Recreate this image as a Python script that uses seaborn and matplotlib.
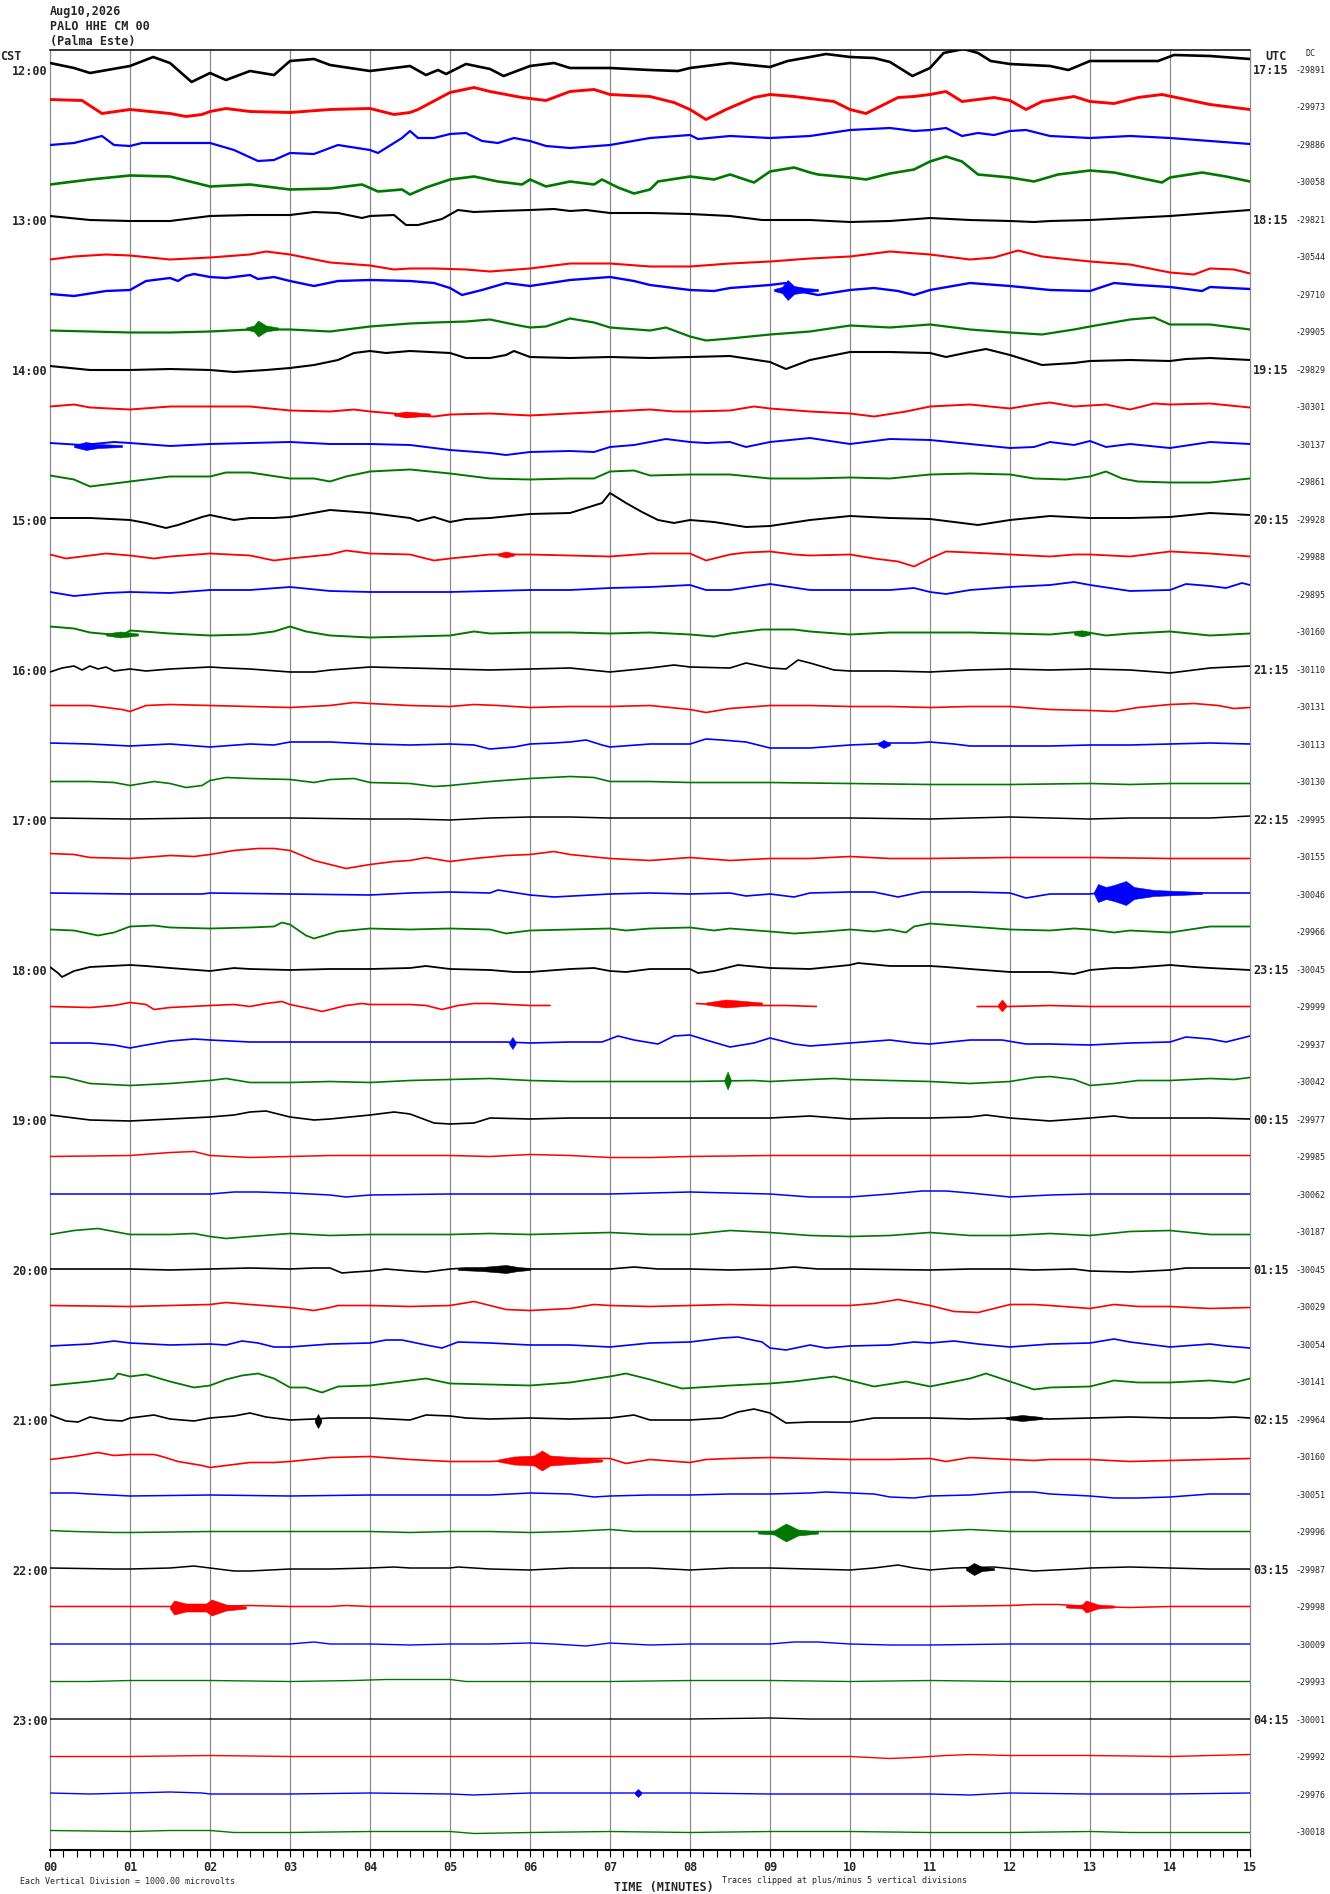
import numpy as np
import pandas as pd
import matplotlib
matplotlib.use("Agg")
import matplotlib.pyplot as plt
import seaborn as sns

W, H = 1330, 1894
ROW_PX = 37.5  # spacing of the 15-minute lines, in output pixels

station = ["Aug10,2026", "PALO HHE CM 00", "(Palma Este)"]
cst_hours = ["12:00", "13:00", "14:00", "15:00", "16:00", "17:00",
             "18:00", "19:00", "20:00", "21:00", "22:00", "23:00"]
utc_hours = ["17:15", "18:15", "19:15", "20:15", "21:15", "22:15",
             "23:15", "00:15", "01:15", "02:15", "03:15", "04:15"]
minute_labels = ["00", "01", "02", "03", "04", "05", "06", "07",
                 "08", "09", "10", "11", "12", "13", "14", "15"]
dc_offsets = [-29891, -29973, -29886, -30058, -29821, -30544, -29710, -29905,
              -29829, -30301, -30137, -29861, -29928, -29988, -29895, -30160,
              -30110, -30131, -30113, -30130, -29995, -30155, -30046, -29966,
              -30045, -29999, -29937, -30042, -29977, -29985, -30062, -30187,
              -30045, -30029, -30054, -30141, -29964, -30160, -30051, -29996,
              -29987, -29998, -30009, -29993, -30001, -29992, -29976, -30018]

# (minute, offset up from the line's baseline)
w1200 = [(0,7),(0.3,2),(0.5,-3),(1,4),(1.29,13),(1.5,7),(1.77,-12),(2,-3),(2.2,-10),(2.5,-1),(2.8,-5),(3,9),(3.3,11),(3.5,5),(4,-1),(4.5,4),(4.7,-5),(4.85,0),(4.95,-4),(5.2,6),(5.5,1),(5.67,-6),(6,4),(6.3,7),(6.5,2),(7,2),(7.5,0),(7.85,-1),(8,2),(8.5,7),(9,3),(9.22,9),(9.5,13),(9.7,16),(10,13),(10.3,12),(10.5,8),(10.78,-6),(11,2),(11.17,17),(11.42,21),(11.6,17),(11.76,9),(12,6),(12.5,4),(12.73,0),(13,9),(13.5,9),(13.85,9),(14.05,15),(14.5,14),(15,11)]
w1215 = [(0,8),(0.4,7),(0.65,-6),(1,-2),(1.5,-6),(1.7,-9),(1.9,-7),(2,-4),(2.2,-1),(2.5,-4),(3,-5),(3.5,-2),(4,-1),(4.3,-7),(4.5,-5),(4.6,-2),(5,15),(5.3,20),(5.5,16),(5.9,10),(6.2,7),(6.5,16),(6.8,18),(7,13),(7.5,11),(7.8,5),(8,-2),(8.2,-12),(8.45,-2),(8.8,10),(9,13),(9.3,11),(9.8,6),(10,-2),(10.2,-6),(10.6,10),(10.8,11),(11,13),(11.2,16),(11.4,6),(11.8,10),(12,7),(12.2,-2),(12.4,6),(12.8,11),(13,6),(13.3,4),(13.6,10),(13.9,13),(14.2,8),(14.5,3),(15,-2)]
w1230 = [(0,0),(0.3,2),(0.65,9),(0.8,0),(1,-1),(1.15,2),(1.5,2),(2,2),(2.3,-5),(2.6,-16),(2.8,-15),(3,-8),(3.3,-9),(3.6,0),(4,-5),(4.1,-8),(4.4,7),(4.5,14),(4.6,7),(4.8,7),(5,11),(5.2,12),(5.4,4),(5.6,2),(5.8,7),(6,4),(6.2,-1),(6.5,-3),(7,0),(7.5,7),(8,10),(8.1,6),(8.5,9),(9,7),(9.5,9),(10,15),(10.5,17),(10.8,14),(11,15),(11.2,17),(11.4,9),(11.6,12),(11.8,10),(12,14),(12.2,15),(12.5,9),(13,7),(13.5,9),(14,7),(14.5,4),(15,1)]
w1245 = [(0,-2),(0.5,3),(1,7),(1.5,6),(2,-4),(2.5,-2),(3,-7),(3.5,-6),(3.9,-2),(4.1,-9),(4.4,-7),(4.5,-12),(4.7,-5),(5,3),(5.3,6),(5.6,1),(5.9,-2),(6,3),(6.2,-4),(6.5,1),(6.8,-2),(6.9,3),(7.1,-5),(7.3,-11),(7.5,-7),(7.6,1),(8,6),(8.3,3),(8.5,8),(8.8,0),(9,11),(9.3,15),(9.5,10),(9.6,8),(10,5),(10.2,3),(10.5,9),(10.8,13),(11,21),(11.2,26),(11.4,21),(11.6,8),(12,5),(12.3,1),(12.6,8),(13,12),(13.3,10),(13.6,5),(13.9,0),(14,5),(14.4,10),(14.7,6),(15,1)]
w1300 = [(0,4),(0.5,0),(1,-1),(1.5,-1),(2,4),(2.5,5),(3,5),(3.3,8),(3.6,7),(3.9,2),(4,4),(4.3,5),(4.45,-5),(4.6,-5),(4.9,1),(5.1,10),(5.3,8),(5.6,9),(6,10),(6.3,11),(6.5,9),(6.7,10),(7,7),(7.5,7),(8,6),(8.5,4),(8.9,0),(9.5,0),(10,-2),(10.5,-1),(11,2),(11.5,0),(12,-1),(12.3,-2),(12.5,-1),(13,0),(13.5,2),(14,4),(14.5,7),(15,10)]
w1315 = [(0,-2),(0.3,1),(0.7,3),(1,2),(1.5,-2),(2,0),(2.5,3),(2.7,6),(3,3),(3.5,-5),(4,-8),(4.3,-12),(4.5,-11),(4.8,-11),(5.2,-12),(5.5,-14),(6,-11),(6.5,-6),(7,-6),(7.5,-9),(8,-9),(8.5,-6),(9,-4),(9.5,-1),(10,1),(10.5,6),(11,3),(11.5,-2),(11.8,0),(12.1,7),(12.4,1),(13,-4),(13.5,-7),(14,-15),(14.3,-17),(14.5,-11),(14.8,-12),(15,-16)]
w1330 = [(0,1),(0.3,-1),(0.7,4),(1,5),(1.2,14),(1.5,17),(1.6,14),(1.7,19),(1.8,21),(2,18),(2.2,17),(2.5,20),(2.6,16),(2.8,18),(3,14),(3.3,9),(3.6,14),(4,15),(4.5,14),(4.8,12),(5,7),(5.15,0),(5.4,5),(5.7,12),(6,9),(6.5,15),(7,18),(7.3,14),(7.5,10),(7.8,7),(8,5),(8.3,4),(8.5,7),(9,10),(9.2,12),(9.35,4),(9.6,0),(10,5),(10.3,7),(10.6,4),(10.8,0),(11,5),(11.5,12),(12,9),(12.5,5),(13,4),(13.3,12),(13.6,10),(14,8),(14.4,4),(14.5,8),(15,6)]
w1345 = [(0,2),(0.5,1),(1,0),(1.5,0),(2,1),(2.5,3),(3,3),(3.5,1),(4,6),(4.5,9),(4.8,10),(5.2,11),(5.5,13),(5.8,8),(6,5),(6.2,6),(6.5,14),(6.8,10),(7,5),(7.5,2),(7.7,5),(8,-4),(8.2,-8),(8.5,-6),(9,-2),(9.5,1),(10,7),(10.5,5),(11,8),(11.5,3),(12,0),(12.4,-2),(12.8,3),(13,6),(13.5,13),(13.8,15),(14,8),(14.5,8),(15,3)]
w1400 = [(0,4),(0.5,0),(1,0),(1.5,1),(2,0),(2.3,-2),(2.7,0),(3,2),(3.3,5),(3.6,10),(3.8,17),(4,19),(4.2,17),(4.5,19),(5,17),(5.2,12),(5.5,12),(5.7,15),(5.8,19),(6,13),(6.5,12),(7,13),(7.5,12),(8,13),(8.5,14),(9,8),(9.2,1),(9.5,10),(10,18),(10.5,18),(11,17),(11.2,13),(11.5,18),(11.7,21),(12,15),(12.4,5),(12.8,7),(13,9),(13.5,10),(14,9),(14.2,11),(14.5,12),(15,10)]
w1415 = [(0,1),(0.3,3),(0.5,0),(1,-2),(1.5,1),(2,1),(2.5,1),(3,-3),(3.5,-4),(3.8,-2),(4,-4),(4.3,-6),(4.5,-8),(4.8,-9),(5,-7),(5.5,-6),(6,-8),(6.5,-6),(7,-4),(7.5,-2),(7.8,-4),(8,-4),(8.5,-3),(8.8,1),(9,-1),(9.5,-4),(10,-6),(10.3,-9),(10.7,-4),(11,1),(11.5,3),(12,-1),(12.3,3),(12.5,5),(12.8,1),(13.2,3),(13.5,-2),(13.8,4),(14,3),(14.5,4),(15,0)]
w1430 = [(0,2),(0.4,0),(0.8,3),(1,2),(1.5,-1),(2,1),(2.5,2),(3,3),(3.5,1),(4,1),(4.5,0),(5,-5),(5.5,-8),(5.7,-10),(6,-7),(6.5,-6),(6.8,-7),(7,-2),(7.3,0),(7.7,6),(8,3),(8.2,2),(8.5,3),(8.7,-2),(9,3),(9.5,7),(10,1),(10.5,6),(11,5),(11.5,1),(12,-3),(12.3,-2),(12.5,3),(12.8,0),(13,4),(13.2,-2),(13.5,1),(14,-3),(14.5,3),(15,1)]
w1445 = [(0,7),(0.3,3),(0.5,-4),(1,1),(1.5,6),(2,6),(2.2,10),(2.5,10),(3,4),(3.3,4),(3.5,1),(3.7,6),(4,11),(4.5,13),(5,9),(5.5,4),(6,3),(6.5,4),(6.8,4),(7,11),(7.3,12),(7.5,7),(8,8),(8.5,8),(9,4),(9.5,4),(10,5),(10.5,4),(11,8),(11.5,9),(12,8),(12.3,4),(12.7,3),(13,6),(13.2,11),(13.4,4),(13.6,1),(14,0),(14.5,0),(15,4)]
w1500 = [(0,2),(0.5,2),(1,0),(1.2,-3),(1.45,-8),(1.6,-5),(1.9,3),(2,5),(2.3,0),(2.5,2),(2.8,2),(3,3),(3.5,10),(4,7),(4.3,4),(4.5,2),(4.6,-1),(4.8,3),(5,-2),(5.2,1),(5.5,2),(6,6),(6.5,7),(6.9,17),(7,27),(7.2,17),(7.4,8),(7.6,0),(7.8,-3),(8,0),(8.3,-2),(8.7,-7),(9,-6),(9.5,0),(10,4),(10.5,2),(11,1),(11.3,-2),(11.6,-5),(12,0),(12.5,4),(13,2),(13.5,2),(14,3),(14.5,7),(15,5)]
w1515 = [(0,3),(0.2,-1),(0.5,2),(0.7,4),(1,2),(1.3,-1),(1.5,1),(2,4),(2.5,2),(2.8,-3),(3,-1),(3.5,3),(3.7,7),(4,4),(4.5,3),(4.8,-3),(5,-1),(5.5,3),(6,3),(6.5,2),(7,1),(7.5,4),(8,4),(8.2,-3),(8.5,3),(8.7,5),(9,6),(9.3,3),(9.5,2),(10,3),(10.3,-1),(10.6,-4),(10.8,-9),(11,-1),(11.2,6),(11.5,5),(12,3),(12.5,1),(12.8,3),(13,3),(13.5,1),(14,6),(14.5,4),(15,1)]
w1530 = [(0,3),(0.3,-1),(0.7,2),(1,3),(1.5,2),(2,5),(2.5,5),(3,8),(3.5,4),(4,3),(5,3),(6,5),(6.5,5),(7,7),(7.5,8),(8,10),(8.2,5),(8.5,5),(9,11),(9.5,5),(10,5),(10.5,5),(10.8,7),(11,3),(11.2,1),(11.5,5),(12,8),(12.5,10),(12.8,13),(13,10),(13.5,4),(14,5),(14.2,11),(14.5,9),(14.7,7),(14.9,12),(15,10)]
w1545 = [(0,6),(0.3,4),(0.5,0),(0.9,-3),(1,2),(1.5,-1),(2,-3),(2.5,-2),(2.8,1),(3,6),(3.2,1),(3.5,-3),(4,-5),(4.5,-4),(5,-3),(5.3,1),(5.5,-1),(6,0),(6.5,0),(7,-1),(7.5,0),(8,-2),(8.3,-4),(8.5,-1),(8.9,3),(9.3,3),(9.5,1),(10,-2),(10.5,0),(11,0),(11.5,0),(12,-1),(12.5,-2),(12.9,1),(13.2,-3),(13.5,-1),(14,1),(14.5,-3),(15,-1)]
w1600 = [(0,-2),(0.15,2),(0.3,4),(0.4,0),(0.5,4),(0.6,1),(0.7,3),(0.8,-1),(1,1),(1.2,-1),(1.5,1),(2,3),(2.2,2),(2.5,1),(3,-2),(3.3,-2),(3.5,0),(4,3),(4.5,2),(5,1),(5.5,0),(6,1),(6.5,2),(7,-2),(7.5,2),(7.8,5),(8,3),(8.5,2),(8.7,7),(9,2),(9.2,1),(9.35,10),(9.5,7),(9.8,0),(10,-1),(10.5,-1),(11,-2),(11.5,0),(12,1),(12.5,0),(13,1),(13.5,0),(14,-3),(14.5,2),(15,4)]
w1615 = [(0,2),(0.5,2),(0.9,-2),(1,-4),(1.2,2),(1.5,3),(2,2),(2.5,1),(3,0),(3.5,2),(3.8,5),(4,4),(4.5,2),(5,1),(5.3,3),(5.6,2),(6,0),(6.5,1),(7,1),(7.5,2),(8,-2),(8.2,-5),(8.5,-1),(9,2),(9.5,2),(10,1),(10.5,1),(11,0),(11.5,1),(12,1),(12.5,-2),(13,-3),(13.3,-4),(13.6,0),(14,3),(14.3,4),(14.6,2),(14.8,-1),(15,0)]
w1630 = [(0,2),(0.5,1),(1,-1),(1.5,1),(2,-2),(2.5,1),(2.8,0),(3,3),(3.5,3),(4,1),(4.5,0),(5,1),(5.3,0),(5.5,-4),(5.8,-2),(6,1),(6.3,2),(6.5,3),(6.7,5),(6.9,0),(7,-2),(7.5,1),(8,1),(8.2,6),(8.4,5),(8.7,3),(9,-3),(9.5,-3),(10,0),(10.3,1),(10.5,2),(10.8,2),(11,3),(11.3,1),(11.5,-1),(12,-1),(12.5,-1),(13,0),(13.5,0),(14,1),(14.5,2),(15,1)]
w1645 = [(0,1),(0.5,1),(0.8,0),(1,-3),(1.3,1),(1.5,-1),(1.7,-5),(1.9,-3),(2,2),(2.2,5),(2.5,4),(3,3),(3.3,0),(3.5,3),(3.8,4),(4,0),(4.5,-1),(4.8,-4),(5,-3),(5.5,1),(6,4),(6.5,6),(6.8,5),(7,1),(7.5,1),(8,0),(9,0),(10,-1),(11,-2),(12,-2),(13,-1),(13.5,-2),(14,-1),(15,-1)]
w1700 = [(0,2),(1,1),(2,2),(3,2),(4,1),(4.5,1),(5,0),(5.5,2),(6,3),(6.5,3),(7,2),(7.5,2),(8,2),(8.5,2),(9,2),(10,2),(11,1),(11.5,2),(12,3),(12.5,2),(13,1),(13.5,2),(14,2),(14.5,2),(15,4)]
w1715 = [(0,4),(0.3,3),(0.5,0),(1,-1),(1.5,2),(1.8,1),(2,3),(2.3,7),(2.6,9),(2.8,9),(3,7),(3.3,-3),(3.5,-7),(3.7,-11),(4,-7),(4.3,-4),(4.5,-3),(4.7,0),(5,-4),(5.3,-1),(5.7,2),(6,3),(6.3,6),(6.5,3),(7,-1),(7.5,-3),(8,0),(8.5,-3),(9,-1),(9.5,-1),(10,1),(10.5,-1),(11,-1),(12,0),(13,0),(14,-1),(15,-1)]
w1730 = [(0,2),(1,1),(1.9,1),(2,2),(3,1),(4,0),(4.5,2),(5,3),(5.5,2),(5.6,5),(6,0),(6.3,-2),(7,1),(7.5,2),(8,1),(8.5,2),(8.7,-1),(9,1),(9.3,-2),(9.5,2),(10,3),(10.3,3),(10.6,-2),(10.9,3),(11.5,3),(12,2),(12.2,-3),(12.5,1),(13,1),(13.2,3),(13.6,2),(14,2),(14.5,2),(15,2)]
w1745 = [(0,3),(0.3,2),(0.6,-3),(0.8,0),(1,6),(1.3,7),(1.5,5),(2,4),(2.5,5),(2.8,6),(2.9,10),(3,8),(3.2,-3),(3.3,-6),(3.6,1),(4,4),(4.5,3),(5,4),(5.5,3),(5.7,-1),(6,2),(6.5,3),(7,4),(7.2,2),(7.5,4),(8,5),(8.3,2),(8.5,4),(9,1),(9.3,-1),(9.7,1),(10,3),(10.3,1),(10.5,3),(10.7,0),(10.8,6),(11,9),(11.5,6),(12,3),(12.5,2),(12.8,4),(13,3),(13.3,0),(13.5,2),(14,0),(14.5,6),(15,6)]
w1800 = [(0,3),(0.1,-3),(0.15,-7),(0.3,-1),(0.5,3),(1,5),(1.2,4),(1.5,2),(2,-1),(2.3,2),(2.5,1),(3,0),(3.5,1),(4,1),(4.5,2),(4.7,4),(5,1),(5.5,0),(5.8,-2),(6,-2),(6.5,1),(6.8,2),(7,-1),(7.2,-2),(7.5,1),(8,1),(8.1,-3),(8.3,-1),(8.6,5),(9,2),(9.5,1),(10,5),(10.1,7),(10.5,4),(11,4),(11.2,3),(11.5,1),(12,-2),(12.5,-2),(12.8,-4),(13,0),(13.3,2),(13.5,2),(14,5),(14.3,3),(14.5,2),(15,0)]
w1815 = [(0,1),(0.5,0),(0.8,2),(1,5),(1.2,3),(1.3,-2),(1.5,0),(2,2),(2.3,3),(2.5,1),(2.7,4),(2.9,6),(3,3),(3.3,-2),(3.4,-4),(3.7,2),(3.9,4),(4,3),(4.5,3),(4.7,2),(4.9,-2),(5.1,2),(5.3,4),(5.5,4),(6,2),(6.25,2),
         None,
         (8.08,4),(8.3,3),(8.5,4),(8.8,2),(9.2,2),(9.58,1),
         None,
         (11.59,1),(12,1),(12.5,2),(13,1),(14,1),(15,1)]
w1830 = [(0,2),(0.5,2),(0.8,0),(1,-3),(1.2,0),(1.5,4),(1.8,6),(2,5),(2.5,3),(3,3),(4,3),(5,3),(5.7,3),(6,2),(6.5,3),(6.9,3),(7.1,9),(7.3,5),(7.6,1),(7.8,9),(8,10),(8.2,5),(8.5,-2),(8.8,2),(9,7),(9.3,1),(9.5,-1),(10,2),(10.5,5),(10.8,2),(11,1),(11.5,5),(11.9,5),(12.2,1),(12.5,1),(13,0),(13.5,2),(14,3),(14.2,8),(14.5,6),(14.7,3),(15,9)]
w1845 = [(0,6),(0.2,5),(0.5,-1),(1,-3),(1.5,-1),(2,2),(2.2,4),(2.5,0),(3,0),(3.5,1),(4,0),(4.5,2),(5,3),(5.5,4),(6,2),(6.5,1),(7,1),(7.5,1),(8,1),(8.8,2),(9,1),(9.5,3),(9.8,4),(10,3),(10.5,2),(11,1),(11.5,-1),(12,1),(12.3,5),(12.5,6),(12.8,3),(13,-3),(13.3,-1),(13.6,2),(14,2),(14.5,4),(14.8,3),(15,5)]
w1900 = [(0,5),(0.5,0),(1,-1),(1.5,1),(2,3),(2.3,5),(2.5,8),(2.7,9),(3,3),(3.3,0),(3.5,1),(4,5),(4.3,8),(4.5,6),(4.8,-3),(5,-4),(5.3,-3),(5.5,2),(6,1),(6.5,2),(7,2),(7.5,2),(8,2),(8.5,2),(9,2),(9.5,4),(10,1),(10.5,2),(11,2),(11.5,3),(11.7,5),(12,2),(12.5,-1),(13,2),(13.3,4),(13.5,2),(14,2),(14.5,2),(15,1)]
w1915 = [(0,1),(1,2),(1.5,5),(1.8,6),(2,2),(2.5,0),(3,1),(3.5,2),(4,2),(5,2),(5.5,1),(6,3),(6.5,2),(7,0),(7.5,0),(8,1),(9,2),(10,2),(11,2),(12,2),(13,2),(13.5,2),(14,2),(15,2)]
w1930 = [(0,1),(1,1),(2,1),(2.3,3),(2.6,3),(3,2),(3.5,0),(3.7,-2),(4,0),(5,1),(6,1),(7,1),(7.5,2),(8,3),(8.5,2),(9,1),(9.5,-2),(10,-2),(10.5,1),(10.9,4),(11.2,4),(11.5,2),(12,-2),(12.5,0),(13,1),(14,1),(15,1)]
w1945 = [(0,-2),(0.3,2),(0.6,4),(1,-2),(1.5,-2),(1.8,-1),(2,-4),(2.2,-6),(2.5,-4),(3,-1),(3.5,-3),(4,-2),(5,-2),(5.5,-1),(6,-2),(6.5,-1),(7,0),(7.5,-2),(8,-2),(8.5,2),(9,0),(9.5,-3),(10,-4),(10.5,-3),(11,0),(11.5,-3),(12,-3),(12.5,-1),(13,-3),(13.5,1),(14,2),(14.5,-2),(15,-2)]
w2000 = [(0,1),(1,1),(1.5,0),(2,1),(2.5,2),(3,1),(3.3,2),(3.5,2),(3.65,-3),(3.8,-2),(4,-1),(4.2,1),(4.5,-1),(4.7,-2),(5,1),(5.2,2),(5.5,1),(6,1),(6.5,1),(7,1),(7.3,3),(7.6,1),(8,1),(8.5,0),(9,1),(9.3,3),(9.6,1),(10,1),(11,0),(11.5,1),(12,1),(12.3,0),(12.8,1),(13,-1),(13.5,-2),(14,0),(14.2,2),(14.5,2),(15,2)]
w2015 = [(0,2),(1,1),(1.5,2),(2,3),(2.2,5),(2.5,3),(3,0),(3.3,-3),(3.5,0),(3.6,2),(4,2),(4.5,1),(5,2),(5.3,6),(5.5,2),(5.7,-2),(6,-3),(6.5,-1),(6.8,3),(7,2),(7.5,1),(8,2),(8.5,3),(9,2),(9.5,2),(10,2),(10.3,4),(10.6,8),(11,2),(11.3,-4),(11.6,-5),(12,3),(12.3,3),(12.5,2),(13,-1),(13.3,3),(13.6,1),(14,1),(14.5,-1),(15,0)]
w2030 = [(0,-1),(0.5,1),(0.8,4),(1,2),(1.5,0),(2,1),(2.2,0),(2.4,4),(2.6,2),(2.8,-2),(3,-2),(3.5,1),(4,2),(4.2,5),(4.4,5),(4.7,0),(4.9,-3),(5.1,3),(5.5,2),(6,0),(6.5,0),(7,-2),(7.5,2),(8,3),(8.2,5),(8.4,7),(8.6,8),(8.9,3),(9,-3),(9.2,-5),(9.5,0),(9.7,-3),(10,-1),(10.5,0),(10.8,3),(11,2),(11.3,4),(11.6,1),(12,-2),(12.5,1),(13,2),(13.3,6),(13.5,3),(14,-2),(14.5,1),(14.7,-1),(15,-3)]
w2045 = [(0,-3),(0.5,1),(0.8,4),(0.85,9),(1,6),(1.2,8),(1.5,1),(1.8,-5),(2,-3),(2.2,3),(2.4,7),(2.6,9),(2.8,4),(3,-5),(3.2,-5),(3.4,-10),(3.6,-4),(4,-3),(4.5,2),(4.7,4),(5,-1),(5.5,-2),(6,-3),(6.5,0),(7,6),(7.2,9),(7.5,3),(7.9,-6),(8.5,-3),(9,-1),(9.3,1),(9.5,3),(9.8,6),(10.3,-4),(10.7,1),(11,-4),(11.5,4),(11.7,9),(12,1),(12.3,-7),(12.5,-5),(13,-4),(13.3,2),(13.6,0),(14,0),(14.5,2),(14.8,0),(15,4)]
w2100 = [(0,5),(0.2,-1),(0.35,-2),(0.5,3),(0.7,0),(0.9,-1),(1,2),(1.3,5),(1.5,1),(1.8,-1),(2,2),(2.3,4),(2.5,7),(2.7,3),(3,0),(3.3,1),(3.5,2),(4,2),(4.5,0),(4.7,5),(5,4),(5.2,2),(5.5,1),(6,2),(6.5,1),(7,2),(7.3,5),(7.5,0),(8,0),(8.4,2),(8.6,8),(8.8,11),(9,7),(9.2,-3),(9.5,-2),(10,-2),(10.3,2),(10.5,2),(11,2),(11.5,1),(12,2),(12.5,1),(13,2),(13.5,3),(14,2),(14.5,2),(14.8,3),(15,2)]
w2115 = [(0,-2),(0.3,1),(0.6,5),(0.8,2),(1,3),(1.3,3),(1.4,1),(1.6,-4),(1.9,-8),(2,-10),(2.3,-7),(2.5,-5),(2.8,-5),(3,-4),(3.5,0),(4,1),(4.5,-2),(5,-4),(5.5,-4),(6,-2),(6.5,-1),(7,-1),(7.2,-6),(7.5,-2),(8,-5),(8.2,-2),(8.5,-1),(9,0),(10,-2),(10.5,-2),(11,-1),(11.2,-4),(11.5,0),(12,-2),(12.3,-3),(12.5,-2),(13,-2),(13.5,-4),(14,-3),(14.5,-2),(15,-1)]
w2130 = [(0,2),(0.3,2),(0.5,1),(1,-1),(2,0),(3,-1),(4,0),(5,0),(5.5,0),(6,2),(6.5,1),(6.8,-2),(7,-1),(7.5,0),(8,0),(8.5,1),(9,1),(9.5,2),(9.7,3),(10,2),(10.3,1),(10.5,-2),(10.8,-3),(11,-1),(11.5,0),(11.8,2),(12,3),(12.3,3),(12.5,1),(13,-1),(13.3,-3),(13.6,-3),(14,-2),(14.5,1),(15,1)]
w2145 = [(0,2),(0.3,1),(0.8,0),(1,0),(2,1),(3,1),(4,1),(4.5,0),(5,1),(5.5,1),(6,0),(6.5,1),(7,3),(7.3,1),(8,1),(8.5,1),(9,1),(9.5,1),(10,1),(11,1),(11.5,3),(12,1),(13,1),(14,1),(15,1)]
w2200 = [(0,2),(0.8,1),(1,1),(1.5,2),(1.8,4),(2,2),(2.3,-1),(2.5,-1),(3,1),(3.5,1),(4,2),(4.3,3),(4.5,2),(5,2),(5.1,3),(5.5,1),(6,0),(6.5,2),(7,2),(7.5,2),(8,0),(8.5,2),(9,2),(9.5,1),(10,0),(10.3,2),(10.6,5),(10.8,2),(11,0),(11.3,2),(11.8,3),(12.3,-1),(12.8,1),(13,2),(13.5,3),(14,2),(14.5,1),(15,1)]
w2215 = [(0,1),(1,1),(2,1),(2.5,2),(3,1),(3.5,1),(3.7,2),(4,1),(5,1),(6,1),(7,1),(8,1),(9,1),(10,1),(11,1),(12,2),(12.3,3),(12.6,3),(13,1),(13.5,0),(14,1),(15,1)]
w2230 = [(0,1),(1,1),(2,1),(3,1),(3.3,3),(3.5,1),(4,1),(4.5,0),(5,1),(5.5,1),(6,2),(6.3,1),(6.7,-1),(7,2),(7.5,0),(8,1),(8.5,1),(9,1),(9.3,3),(9.6,3),(10,1),(10.5,0),(11,0),(12,1),(13,1),(14,1),(15,1)]
w2245 = [(0,1),(0.5,1),(1,2),(2,2),(3,1),(3.8,2),(4.2,3),(5,3),(5.2,1),(6,1),(7,1),(8,2),(9,2),(10,1),(11,2),(12,1),(13,1),(14,1),(15,1)]
w2300 = [(0,1),(1,1),(2,1),(3,1),(4,1),(5,1),(6,1),(7,1),(8,1),(9,2),(9.5,1),(10,1),(11,1),(12,1),(13,1),(14,1),(15,1)]
w2315 = [(0,1),(1,1),(2,2),(3,1),(4,1),(5,1),(6,1),(7,1),(8,1),(9,1),(10,1),(10.5,-1),(10.8,0),(11.2,2),(11.5,3),(12,2),(13,2),(14,1),(14.5,2),(15,3)]
w2330 = [(0,2),(0.5,1),(1,2),(1.5,3),(1.9,2),(2,1),(3,1),(4,2),(5,1),(5.3,0),(6,2),(7,2),(8,2),(9,1),(10,1),(11,1),(11.5,0),(12,2),(13,1),(14,1),(15,2)]
w2345 = [(0,2),(1,1),(1.5,2),(2,2),(2.3,0),(3,0),(4,1),(5,1),(5.3,-1),(6,0),(7,1),(8,0),(9,1),(10,1),(11,0),(12,0),(13,1),(13.5,0),(14,0),(15,0)]

# earthquake / noise bursts: (line, centre offset, minutes, half-height)
bursts = [
    ("13:30", 5, [9.05, 9.15, 9.22, 9.3, 9.45, 9.6], [1, 3, 10, 4, 2, 1]),
    ("13:45", 4, [2.45, 2.55, 2.6, 2.7, 2.85], [1, 3, 8, 3, 1]),
    ("14:15", -7, [4.3, 4.45, 4.6, 4.75], [1, 3, 2, 1]),
    ("14:30", -1, [0.3, 0.45, 0.6, 0.9], [1, 4, 2, 1]),
    ("15:15", 3, [5.6, 5.7, 5.8], [1, 3, 1]),
    ("15:45", -2, [0.7, 0.88, 1.1], [1, 3, 1]),
    ("15:45", -1, [12.8, 12.9, 13.0], [1, 3, 1]),
    ("16:30", 1, [10.35, 10.42, 10.5], [1, 4, 1]),
    ("17:30", 2, [13.05, 13.1, 13.2, 13.3, 13.45, 13.55, 13.8, 14.1, 14.4], [1, 9, 6, 8, 12, 6, 3, 2, 1]),
    ("18:15", 4, [8.2, 8.45, 8.6, 8.9], [1, 4, 3, 1]),
    ("18:15", 2, [11.85, 11.9, 11.95], [1, 6, 1]),
    ("18:30", 2, [5.74, 5.78, 5.82], [1, 6, 1]),
    ("18:45", 2, [8.43, 8.47, 8.51], [1, 9, 1]),
    ("20:00", 1, [5.1, 5.4, 5.7, 5.85, 6.0], [1, 2, 4, 2, 1]),
    ("21:00", -1, [3.31, 3.35, 3.39], [1, 7, 1]),
    ("21:00", 2, [11.95, 12.15, 12.4], [1, 3, 1]),
    ("21:15", -3, [5.6, 5.8, 6.05, 6.15, 6.25, 6.6, 6.9], [1, 4, 5, 10, 5, 3, 1]),
    ("21:45", 0, [8.85, 9.05, 9.2, 9.35, 9.6], [1, 2, 9, 3, 1]),
    ("22:00", 1, [11.45, 11.55, 11.65, 11.8], [1, 6, 2, 1]),
    ("22:15", 0, [1.5, 1.55, 1.7, 1.95, 2.02, 2.2, 2.45], [1, 7, 4, 4, 8, 3, 1]),
    ("22:15", 1, [12.7, 12.9, 12.95, 13.1, 13.3], [1, 2, 6, 2, 1]),
    ("23:30", 2, [7.31, 7.35, 7.39], [1, 4, 1]),
]

waves = [w1200, w1215, w1230, w1245, w1300, w1315, w1330, w1345,
         w1400, w1415, w1430, w1445, w1500, w1515, w1530, w1545,
         w1600, w1615, w1630, w1645, w1700, w1715, w1730, w1745,
         w1800, w1815, w1830, w1845, w1900, w1915, w1930, w1945,
         w2000, w2015, w2030, w2045, w2100, w2115, w2130, w2145,
         w2200, w2215, w2230, w2245, w2300, w2315, w2330, w2345]
line_labels = [f"{h}:{q:02d}" for h in range(12, 24) for q in (0, 15, 30, 45)]

# style: colours cycle per line, noisier lines drawn thicker
trace_colors = ["#000000", "#ff0000", "#0000ff", "#007800"]
trace_lw = [1.9, 2.1, 1.6, 1.9, 1.5, 1.5, 1.7, 1.6,
            1.5, 1.4, 1.4, 1.4, 1.4, 1.3, 1.3, 1.4,
            1.2, 1.2, 1.2, 1.2, 1.1, 1.2, 1.2, 1.3,
            1.3, 1.2, 1.2, 1.2, 1.2, 1.1, 1.1, 1.2,
            1.2, 1.2, 1.2, 1.3, 1.2, 1.2, 1.1, 1.1,
            1.1, 1.1, 1.0, 1.0, 1.0, 1.0, 1.0, 1.0]

records = []
for k, (label, wave) in enumerate(zip(line_labels, waves)):
    seg = 0
    for point in wave:
        if point is None:
            seg += 1
            continue
        records.append({"minute": point[0], "y": -k + point[1] / ROW_PX,
                        "line": label, "seg": f"{label}/{seg}"})
df = pd.DataFrame(records)

palette = {lab: trace_colors[k % 4] for k, lab in enumerate(line_labels)}
sizes = {lab: trace_lw[k] for k, lab in enumerate(line_labels)}

sns.set_style("white")
plt.rcParams["font.family"] = ["DejaVu Sans Mono", "DejaVu Sans"]

fig = plt.figure(figsize=(W / 100, H / 100), dpi=100)
ax = fig.add_axes([50 / W, (H - 1850) / H, 1200 / W, 1800 / H])

y_top = (70 - 50) / ROW_PX
y_bot = -(1850 - 70) / ROW_PX

ax.vlines(range(16), y_bot, y_top, colors="#8a8a8a", lw=0.9, zorder=0.5, clip_on=False)

sns.lineplot(data=df, x="minute", y="y", hue="line", size="line", sizes=sizes,
             palette=palette, units="seg", estimator=None, sort=False,
             legend=False, ax=ax, zorder=2)

for label, center, minutes, half in bursts:
    k = line_labels.index(label)
    m = np.array(minutes, dtype=float)
    h = np.array(half, dtype=float) / ROW_PX
    yc = -k + center / ROW_PX
    ax.fill_between(m, yc - h, yc + h, color=palette[label], lw=0.4, zorder=2.5)

ax.set_xlim(0, 15)
ax.set_ylim(y_bot, y_top)
ax.set_xlabel("")
ax.set_ylabel("")

ax.set_xticks(range(16))
ax.set_xticklabels(minute_labels, fontsize=8.5, fontweight="bold")
ax.set_xticks(np.arange(0, 15.001, 1 / 6), minor=True)
ax.tick_params(axis="x", which="both", bottom=True, direction="out",
               length=5, width=0.8, color="black", pad=3)

hour_rows = [-r for r in range(0, 48, 4)]
ax.set_yticks(hour_rows)
ax.set_yticklabels(cst_hours, fontsize=8.5, fontweight="bold")
ax.tick_params(axis="y", length=0, pad=1.5, left=False)

for side in ("left", "right"):
    ax.spines[side].set_visible(False)
ax.spines["top"].set_color("black")
ax.spines["top"].set_linewidth(1.1)
ax.spines["bottom"].set_color("black")
ax.spines["bottom"].set_linewidth(1.5)

ytr = ax.get_yaxis_transform()
for r, lab in zip(hour_rows, utc_hours):
    ax.text(1.0025, r, lab, transform=ytr, ha="left", va="center",
            fontsize=8.5, fontweight="bold")
for k, dc in enumerate(dc_offsets):
    ax.text(1.0383, -k, str(dc), transform=ytr, ha="left", va="center", fontsize=6)


def ftext(x, y, s, **kw):
    fig.text(x / W, 1 - y / H, s, va="center", **kw)


for y, line in zip((12, 27, 42), station):
    ftext(50, y, line, ha="left", fontsize=8.5, fontweight="bold")
ftext(0, 57, "CST", ha="left", fontsize=8.5, fontweight="bold")
ftext(1265, 56, "UTC", ha="left", fontsize=8.5, fontweight="bold")
ftext(1306, 54, "DC", ha="left", fontsize=6)
ftext(20, 1881, "Each Vertical Division = 1000.00 microvolts", ha="left", fontsize=6)
ftext(614, 1887, "TIME (MINUTES)", ha="left", fontsize=8.5, fontweight="bold")
ftext(722, 1880, "Traces clipped at plus/minus 5 vertical divisions", ha="left", fontsize=6)

fig.savefig("out.png", dpi=100)
